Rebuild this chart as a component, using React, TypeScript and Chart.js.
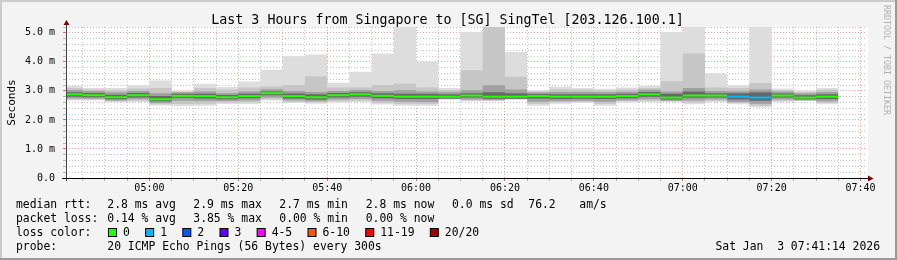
import React, { useEffect, useRef } from 'react';
import { Chart, registerables } from 'chart.js';

Chart.register(...registerables);

// ---- data (5-minute bins, value in ms) ----
const binStarts = [
  '04:40', '04:45', '04:50', '04:55', '05:00', '05:05', '05:10', '05:15', '05:20', '05:25',
  '05:30', '05:35', '05:40', '05:45', '05:50', '05:55', '06:00', '06:05', '06:10', '06:15',
  '06:20', '06:25', '06:30', '06:35', '06:40', '06:45', '06:50', '06:55', '07:00', '07:05',
  '07:10', '07:15', '07:20', '07:25', '07:30',
];
const dataEnd = '07:35';
const rangeStart = '04:41:14';
const rangeEnd = '07:41:14';

const medianRtt = [2.88, 2.85, 2.78, 2.85, 2.71, 2.83, 2.82, 2.78, 2.82, 2.92, 2.82, 2.78, 2.85, 2.88, 2.83, 2.80, 2.80, 2.80, 2.84, 2.80, 2.80, 2.82, 2.80, 2.80, 2.80, 2.82, 2.88, 2.77, 2.84, 2.84, 2.80, 2.77, 2.84, 2.77, 2.80];
const smokeMax = [3.18, 3.10, 3.10, 3.19, 3.36, 3.01, 3.25, 3.13, 3.32, 3.73, 4.19, 4.25, 3.28, 3.66, 4.29, 5.60, 4.02, 3.10, 5.03, 5.60, 4.34, 3.03, 3.15, 3.10, 3.07, 3.12, 3.18, 5.03, 5.60, 3.60, 3.19, 5.60, 3.08, 3.01, 3.10];
const smokeHi2 = [3.10, 3.05, 3.03, 3.08, 3.10, 2.97, 3.10, 3.05, 3.12, 3.15, 3.20, 3.50, 3.12, 3.12, 3.20, 3.25, 3.12, 3.03, 3.71, 5.60, 3.49, 2.98, 3.06, 3.04, 3.02, 3.05, 3.10, 3.33, 4.29, 3.12, 3.10, 3.27, 3.02, 2.96, 3.04];
const smokeHi3 = [3.03, 3.00, 2.95, 3.00, 2.92, 2.95, 2.98, 2.93, 2.98, 3.06, 3.00, 2.96, 3.00, 3.03, 3.00, 3.02, 2.98, 2.96, 3.02, 3.19, 3.05, 2.95, 2.96, 2.96, 2.95, 2.97, 3.04, 2.98, 3.10, 3.00, 2.99, 3.05, 2.98, 2.92, 2.96];
const smokeHi4 = [2.95, 2.93, 2.87, 2.93, 2.82, 2.90, 2.90, 2.86, 2.90, 2.98, 2.91, 2.88, 2.93, 2.95, 2.92, 2.90, 2.90, 2.88, 2.92, 2.95, 2.92, 2.89, 2.88, 2.88, 2.88, 2.90, 2.96, 2.90, 2.98, 2.92, 2.92, 2.95, 2.91, 2.85, 2.88];
const smokeLo4 = [2.80, 2.78, 2.71, 2.77, 2.64, 2.76, 2.74, 2.71, 2.75, 2.85, 2.74, 2.70, 2.77, 2.80, 2.75, 2.72, 2.72, 2.74, 2.77, 2.73, 2.73, 2.74, 2.72, 2.73, 2.72, 2.75, 2.80, 2.70, 2.76, 2.77, 2.70, 2.66, 2.77, 2.71, 2.72];
const smokeLo3 = [2.74, 2.73, 2.67, 2.71, 2.58, 2.66, 2.65, 2.65, 2.67, 2.77, 2.68, 2.64, 2.70, 2.72, 2.66, 2.63, 2.62, 2.72, 2.70, 2.69, 2.72, 2.63, 2.65, 2.66, 2.63, 2.68, 2.71, 2.66, 2.67, 2.70, 2.62, 2.56, 2.70, 2.68, 2.64];
const smokeLo2 = [2.70, 2.70, 2.64, 2.66, 2.54, 2.55, 2.56, 2.60, 2.60, 2.71, 2.62, 2.60, 2.64, 2.66, 2.58, 2.55, 2.55, 2.71, 2.67, 2.67, 2.71, 2.55, 2.60, 2.62, 2.55, 2.64, 2.66, 2.64, 2.60, 2.66, 2.58, 2.49, 2.66, 2.66, 2.58];
const smokeMin = [2.67, 2.67, 2.62, 2.62, 2.50, 2.47, 2.49, 2.55, 2.55, 2.67, 2.58, 2.56, 2.60, 2.62, 2.53, 2.49, 2.49, 2.70, 2.64, 2.64, 2.70, 2.49, 2.56, 2.58, 2.49, 2.61, 2.62, 2.62, 2.54, 2.62, 2.54, 2.43, 2.62, 2.65, 2.54];
const lossCount = [0, 0, 0, 0, 0, 0, 0, 0, 0, 0, 0, 0, 0, 0, 0, 0, 0, 0, 0, 0, 0, 0, 0, 0, 0, 0, 0, 0, 0, 0, 1, 1, 0, 0, 0];

const xTickLabels = ['05:00', '05:20', '05:40', '06:00', '06:20', '06:40', '07:00', '07:20', '07:40'];
const yTickLabels = ['0.0', '1.0 m', '2.0 m', '3.0 m', '4.0 m', '5.0 m'];

const titleText = 'Last 3 Hours from Singapore to [SG] SingTel [203.126.100.1]';
const rttStats = ['2.8 ms avg', '2.9 ms max', '2.7 ms min', '2.8 ms now', '0.0 ms sd', '76.2', 'am/s'];
const lossStats = ['0.14 % avg', '3.85 % max', '0.00 % min', '0.00 % now'];
const lossLegend: [string, string][] = [
  ['0', '#26ff00'], ['1', '#00b8ff'], ['2', '#0059ff'], ['3', '#5e00ff'],
  ['4-5', '#ff00ff'], ['6-10', '#ff5500'], ['11-19', '#ff0000'], ['20/20', '#a10000'],
];
const probeText = '20 ICMP Echo Pings (56 Bytes) every 300s';
const dateText = 'Sat Jan  3 07:41:14 2026';
const watermark = 'RRDTOOL / TOBI OETIKER';

// ---- helpers ----
const toMin = (s: string) => {
  const p = s.split(':').map(Number);
  return p[0] * 60 + p[1] + (p[2] || 0) / 60;
};
const lossColor = (n: number) => {
  if (n <= 0) return lossLegend[0][1];
  if (n === 1) return lossLegend[1][1];
  if (n === 2) return lossLegend[2][1];
  if (n === 3) return lossLegend[3][1];
  if (n <= 5) return lossLegend[4][1];
  if (n <= 10) return lossLegend[5][1];
  if (n <= 19) return lossLegend[6][1];
  return lossLegend[7][1];
};

const MONO = '"DejaVu Sans Mono", monospace';

const stepSeries = (vals: number[]) => {
  const pts = binStarts.map((t, i) => ({ x: toMin(t), y: vals[i] }));
  pts.push({ x: toMin(dataEnd), y: vals[vals.length - 1] });
  return pts;
};

const medianPoints = () => {
  const pts: { x: number; y: number }[] = [];
  binStarts.forEach((t, i) => {
    const s = toMin(t);
    const e = i + 1 < binStarts.length ? toMin(binStarts[i + 1]) : toMin(dataEnd);
    pts.push({ x: s, y: medianRtt[i] }, { x: e, y: medianRtt[i] });
  });
  return pts;
};

const band = (vals: number[], fillColor: string | null) => ({
  type: 'line' as const,
  data: stepSeries(vals),
  stepped: true,
  borderColor: 'rgba(0,0,0,0)',
  borderWidth: 1,
  pointRadius: 0,
  backgroundColor: fillColor || 'rgba(0,0,0,0)',
  fill: fillColor ? '+1' : false,
  clip: 0,
});

const framePlugin = {
  id: 'rrdFrame',
  beforeDraw(chart: any) {
    const { ctx, width, height, chartArea: a } = chart;
    ctx.save();
    ctx.fillStyle = '#f3f3f3';
    ctx.fillRect(0, 0, width, height);
    ctx.fillStyle = '#cbcbcb';
    ctx.fillRect(0, 0, width, 2);
    ctx.fillRect(0, 0, 2, height);
    ctx.fillStyle = '#999999';
    ctx.fillRect(0, height - 2, width, 2);
    ctx.fillRect(width - 2, 0, 2, height);
    ctx.fillStyle = '#ffffff';
    ctx.fillRect(a.left, a.top, a.right - a.left + 2, a.bottom - a.top);
    ctx.restore();
  },
  afterDraw(chart: any) {
    const { ctx, width, chartArea: a } = chart;
    ctx.save();
    // axes
    ctx.strokeStyle = '#444';
    ctx.lineWidth = 1;
    ctx.beginPath();
    ctx.moveTo(a.left + 0.5, a.bottom + 3);
    ctx.lineTo(a.left + 0.5, a.top - 4);
    ctx.stroke();
    ctx.strokeStyle = '#000';
    ctx.beginPath();
    ctx.moveTo(a.left - 4, a.bottom + 0.5);
    ctx.lineTo(a.right + 4, a.bottom + 0.5);
    ctx.stroke();
    // arrows
    ctx.fillStyle = '#7f0000';
    ctx.beginPath();
    ctx.moveTo(a.left - 2.5, a.top - 2);
    ctx.lineTo(a.left + 3.5, a.top - 2);
    ctx.lineTo(a.left + 0.5, a.top - 7);
    ctx.closePath();
    ctx.fill();
    ctx.beginPath();
    ctx.moveTo(a.right + 2, a.bottom - 2.5);
    ctx.lineTo(a.right + 2, a.bottom + 3.5);
    ctx.lineTo(a.right + 7.5, a.bottom + 0.5);
    ctx.closePath();
    ctx.fill();

    // title
    ctx.fillStyle = '#000';
    ctx.font = `13.3px ${MONO}`;
    ctx.textAlign = 'center';
    ctx.textBaseline = 'alphabetic';
    ctx.fillText(titleText, 447.5, 24);

    // y title
    ctx.save();
    ctx.translate(14.5, (a.top + a.bottom) / 2);
    ctx.rotate(-Math.PI / 2);
    ctx.font = `11px ${MONO}`;
    ctx.textAlign = 'center';
    ctx.textBaseline = 'alphabetic';
    ctx.fillText('Seconds', 0, 0);
    ctx.restore();

    // watermark
    ctx.save();
    ctx.translate(884, 5);
    ctx.rotate(Math.PI / 2);
    ctx.font = `8.3px ${MONO}`;
    ctx.fillStyle = '#b0b0b0';
    ctx.textAlign = 'left';
    ctx.textBaseline = 'alphabetic';
    ctx.fillText(watermark, 0, 0);
    ctx.restore();

    // legend text
    ctx.font = `11.4px ${MONO}`;
    ctx.textAlign = 'left';
    ctx.textBaseline = 'alphabetic';
    ctx.fillStyle = '#000';
    const cols = [107.3, 193.3, 279.3, 365.7, 452, 528.3, 579.3];
    ctx.fillText('median rtt:', 16, 208);
    rttStats.forEach((s, i) => ctx.fillText(s, cols[i], 208));
    ctx.fillText('packet loss:', 16, 222);
    lossStats.forEach((s, i) => ctx.fillText(s, cols[i], 222));
    ctx.fillText('loss color:', 16, 236);
    let x = 108;
    lossLegend.forEach(([label, color]) => {
      ctx.fillStyle = color;
      ctx.fillRect(x + 0.5, 228.5, 8, 8);
      ctx.strokeStyle = '#000';
      ctx.strokeRect(x + 0.5, 228.5, 8, 8);
      ctx.fillStyle = '#000';
      ctx.fillText(label, x + 15, 236);
      x = x + 15 + ctx.measureText(label).width + 15.3;
    });
    ctx.fillText('probe:', 16, 250);
    ctx.fillText(probeText, 107.3, 250);
    ctx.textAlign = 'right';
    ctx.fillText(dateText, 880, 250);
    ctx.restore();
  },
};

export default function App() {
  const ref = useRef<HTMLCanvasElement | null>(null);

  useEffect(() => {
    if (!ref.current) return;
    const xMin = toMin(rangeStart);
    const xMax = toMin(rangeEnd);
    const isMajorY = (v: number) => Math.abs(v - Math.round(v)) < 1e-6;

    const datasets: any[] = [
      {
        type: 'line',
        data: medianPoints(),
        borderColor: lossColor(0),
        borderWidth: 2,
        borderCapStyle: 'butt',
        pointRadius: 0,
        fill: false,
        clip: 0,
        segment: {
          borderColor: (c: any) =>
            c.p0.parsed.x === c.p1.parsed.x
              ? 'rgba(0,0,0,0)'
              : lossColor(lossCount[Math.floor(c.p0DataIndex / 2)]),
        },
      },
      band(smokeHi4, '#686868'),
      band(smokeLo4, null),
      band(smokeHi3, '#a0a0a0'),
      band(smokeLo3, null),
      band(smokeHi2, '#c6c6c6'),
      band(smokeLo2, null),
      band(smokeMax, '#dddddd'),
      band(smokeMin, null),
    ];

    const chart = new Chart(ref.current, {
      type: 'line',
      data: { datasets },
      options: {
        animation: false,
        responsive: false,
        devicePixelRatio: 1,
        layout: { padding: { left: 0, top: 27, right: 31, bottom: 0 } },
        plugins: {
          legend: { display: false },
          tooltip: { enabled: false },
          title: { display: false },
        },
        elements: { point: { radius: 0 } },
        scales: {
          x: {
            type: 'linear',
            min: xMin,
            max: xMax,
            z: 1,
            afterBuildTicks: (scale: any) => {
              const ticks = [];
              for (let m = Math.ceil(xMin / 5) * 5; m <= xMax; m += 5) ticks.push({ value: m });
              scale.ticks = ticks;
            },
            afterFit: (scale: any) => {
              scale.height = 82;
            },
            ticks: {
              autoSkip: false,
              maxRotation: 0,
              padding: 1,
              color: '#000',
              font: { family: MONO, size: 10 },
              callback: (v: any) => {
                const found = xTickLabels.find((l) => Math.abs(toMin(l) - Number(v)) < 1e-6);
                return found || '';
              },
            },
            grid: {
              color: (c: any) =>
                Math.round(c.tick?.value ?? 0) % 20 === 0 ? 'rgba(255,0,0,0.38)' : 'rgba(140,140,140,0.5)',
              tickColor: (c: any) =>
                Math.round(c.tick?.value ?? 0) % 20 === 0 ? 'rgba(255,0,0,0.6)' : 'rgba(140,140,140,0.6)',
              tickLength: 3,
              drawTicks: true,
              tickBorderDash: [],
            },
            border: { display: false, dash: [1, 2] },
          },
          y: {
            type: 'linear',
            min: 0,
            max: 5.2,
            z: 1,
            afterBuildTicks: (scale: any) => {
              const ticks = [];
              for (let k = 0; k <= 26; k++) ticks.push({ value: k / 5 });
              scale.ticks = ticks;
            },
            afterFit: (scale: any) => {
              scale.width = 66;
            },
            ticks: {
              autoSkip: false,
              padding: 8,
              color: '#000',
              font: { family: MONO, size: 10 },
              callback: (v: any) => (isMajorY(Number(v)) ? yTickLabels[Math.round(Number(v))] || '' : ''),
            },
            grid: {
              color: (c: any) => (isMajorY(c.tick?.value ?? 0) ? 'rgba(255,0,0,0.38)' : 'rgba(140,140,140,0.5)'),
              tickColor: (c: any) => (isMajorY(c.tick?.value ?? 0) ? 'rgba(255,0,0,0.6)' : 'rgba(140,140,140,0.6)'),
              tickLength: 3,
              drawTicks: true,
              tickBorderDash: [],
            },
            border: { display: false, dash: [1, 2] },
          },
        },
      },
      plugins: [framePlugin],
    } as any);

    return () => chart.destroy();
  }, []);

  return (
    <div style={{ position: 'absolute', left: 0, top: 0, width: 897, height: 260 }}>
      <canvas ref={ref} width={897} height={260} style={{ display: 'block', width: 897, height: 260 }} />
    </div>
  );
}
